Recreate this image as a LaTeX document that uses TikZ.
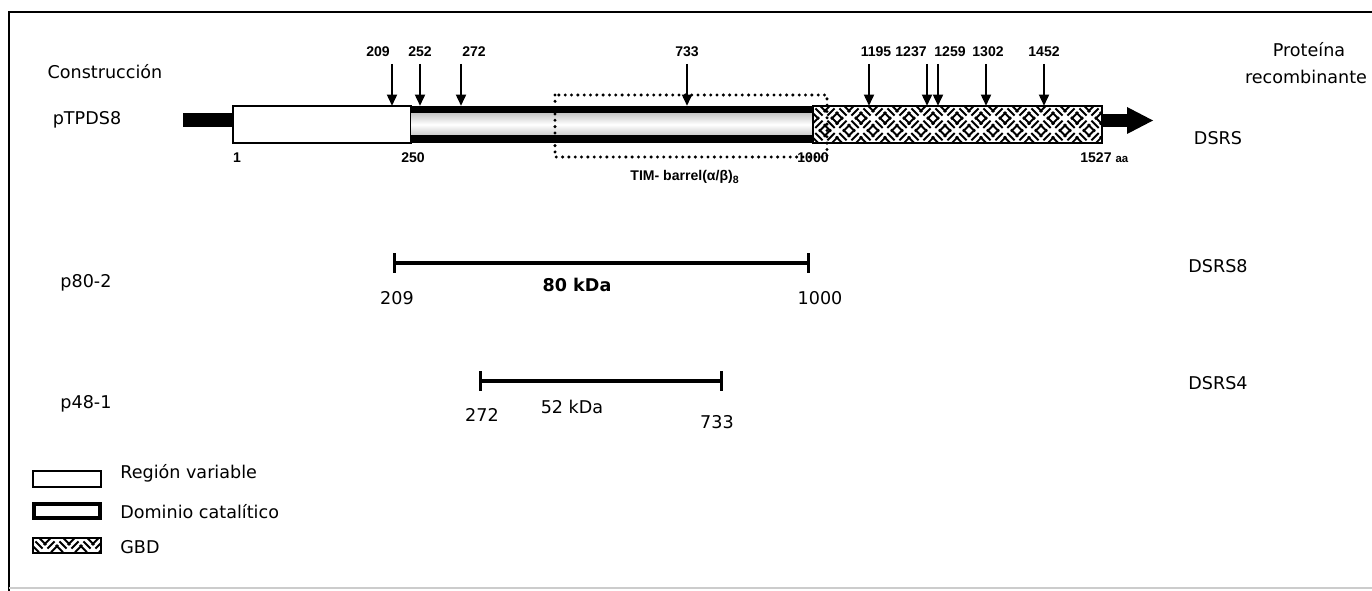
\documentclass[tikz,border=0pt]{standalone}
\usepackage{fontspec}
\setmainfont{DejaVu Sans}
\newfontfamily\numfont{Liberation Sans}
\usepackage{xcolor}
\usepackage{tikz}
\usetikzlibrary{arrows.meta}

\tikzset{
  txt/.style={font=\fontsize{10}{12}\selectfont, inner sep=0pt},
  numtxt/.style={font=\numfont\fontsize{8}{9}\selectfont\bfseries, inner sep=0pt},
  cut/.style={-{Triangle[length=6.5pt,width=5.5pt]}, line width=1.6pt},
  span/.style={{Bar[width=11pt,line width=1.7pt]}-{Bar[width=11pt,line width=1.7pt]}, line width=2.2pt},
  weave/.style={line width=1.1pt},
}
% three parallel strokes of one weave cell
\newcommand{\weavecell}[3]{%
  \ifnum#3=0
    \foreach \k in {-3.6,0,3.6}
      \draw[weave] (#1+6+\k-3.6,#2+6-\k-3.6) -- (#1+6+\k+3.6,#2+6-\k+3.6);
  \else
    \foreach \k in {-3.6,0,3.6}
      \draw[weave] (#1+6+\k-3.6,#2+6+\k+3.6) -- (#1+6+\k+3.6,#2+6+\k-3.6);
  \fi}

\begin{document}
\begin{tikzpicture}[x=0.02cm, y=-0.02cm]
  \useasboundingbox (0,0) rectangle (1372,591);

  % Frame
  \draw[line width=1.6pt] (9,591) -- (9,12) -- (1372,12);
  \draw[gray!40, line width=0.6pt] (9,588) -- (1372,588);

  % Column headings
  \node[txt] (hcon) at (105,72) {Construcción};
  \node[txt] (hprot) at (1309,50) {Proteína};
  \node[txt] (hrec) at (1306,77) {recombinante};

  % Full-length construct
  \node[txt] (cfull) at (87,120) {pTPDS8};
  \coordinate (stubL) at (183,113);
  \coordinate (varL) at (233,106);
  \coordinate (varR) at (411,143);
  \coordinate (gbdR) at (1102,143);
  \fill (stubL) rectangle (233,127);
  \draw[line width=1pt, fill=white] (varL) rectangle (varR);
  % catalytic domain
  \fill (411,106) rectangle (813,114);
  \fill (411,135) rectangle (813,143);
  \shade[top color=gray!40, bottom color=gray!40, middle color=white] (411,114) rectangle (813,135);
  % GBD
  \begin{scope}
    \clip (813,106) rectangle (gbdR);
    \fill[white] (813,106) rectangle (gbdR);
    \foreach \i in {0,...,24}{
      \foreach \j in {0,1,2}{
        \pgfmathtruncatemacro{\flip}{mod(\i+\j,2)}
        \pgfmathsetmacro{\xa}{813+12*\i}
        \pgfmathsetmacro{\ya}{106+12.33*\j}
        \weavecell{\xa}{\ya}{\flip}
      }
    }
  \end{scope}
  \draw[line width=1pt] (813,106) rectangle (gbdR);
  % C-terminal arrow
  \fill (1102,114) rectangle (1128,127);
  \fill (1127,107) -- (1153,120.5) -- (1127,134) -- cycle;

  % TIM barrel
  \draw[line width=1.9pt, line cap=round, dash pattern=on 0pt off 3.6pt] (555,95) rectangle (827,157);
  \node[numtxt] (tim) at (685,177) {TIM- barrel(α/β)\textsubscript{8}};

  % positions along the bar
  \node[numtxt] (p1) at (237,158) {1};
  \node[numtxt] (p250) at (413,158) {250};
  \node[numtxt] (p1000) at (813,158) {1000};
  \node[numtxt, anchor=west] (p1527) at (1080,158) {1527 {\fontsize{6.5}{7}\selectfont aa}};

  % cut sites
  \foreach \pos/\lx/\lab in {392/378/209, 420/420/252, 461/474/272, 687/687/733,
      869/876/1195, 927/911/1237, 938/950/1259, 986/988/1302, 1044/1044/1452}{
    \node[numtxt] (n\lab) at (\lx,52) {\lab};
    \coordinate (s\lab) at (\pos,64);
    \coordinate (e\lab) at (\pos,106);
    \draw[cut] (s\lab) -- (e\lab);
  }
  \node[txt] (rfull) at (1218,138) {DSRS};

  % p80-2
  \node[txt] (c80) at (86,283) {p80-2};
  \coordinate (a80) at (393,263);
  \coordinate (b80) at (810,263);
  \draw[span] (a80) -- (b80);
  \node[txt] at (397,298) {209};
  \node[txt, font=\fontsize{10}{12}\selectfont\bfseries] at (577,285) {80 kDa};
  \node[txt] at (820,298) {1000};
  \node[txt] (r80) at (1218,266) {DSRS8};

  % p48-1
  \node[txt] (c48) at (86,404) {p48-1};
  \coordinate (a48) at (479,381);
  \coordinate (b48) at (723,381);
  \draw[span] (a48) -- (b48);
  \node[txt] at (482,415) {272};
  \node[txt] at (572,407) {52 kDa};
  \node[txt] at (717,422) {733};
  \node[txt] (r48) at (1218,383) {DSRS4};

  % Legend
  \draw[line width=1pt, fill=white] (33,471) rectangle (101,487);
  \node[txt, anchor=west] (lvar) at (120,473) {Región variable};
  \draw[line width=2.4pt, fill=white] (34,504) rectangle (100,518);
  \node[txt, anchor=west] (lcat) at (120,512) {Dominio catalítico};
  \begin{scope}
    \clip (33,538) rectangle (101,553);
    \foreach \i in {0,...,5}{
      \pgfmathtruncatemacro{\flip}{mod(\i,2)}
      \pgfmathsetmacro{\xa}{33+12*\i}
      \weavecell{\xa}{539}{\flip}
    }
  \end{scope}
  \draw[line width=1pt] (33,538) rectangle (101,553);
  \node[txt, anchor=west] (lgbd) at (120,547) {GBD};
\end{tikzpicture}
\end{document}
